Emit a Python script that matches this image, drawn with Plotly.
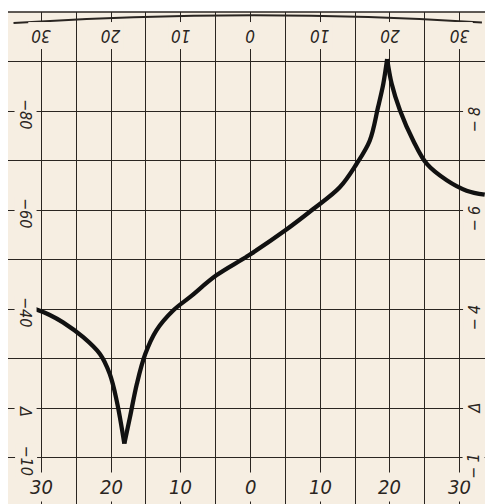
import plotly.graph_objects as go

# ---- data ----
curve_x = [-30.9, -28.8, -26.9, -24.0, -21.6, -20.2, -19.2, -18.1, -17.3, -16.3,
           -15.1, -13.5, -11.1, -8.7, -4.9, -0.3, 5.0, 9.0, 12.8, 15.2,
           17.1, 18.3, 19.05, 19.6, 20.25, 21.45, 23.35, 25.3, 28.15, 31.0, 33.6]
curve_y = [4.00, 3.88, 3.73, 3.43, 3.09, 2.69, 2.15, 1.28, 1.81, 2.49,
           3.09, 3.57, 3.97, 4.24, 4.68, 5.08, 5.59, 6.02, 6.46, 6.93,
           7.40, 8.08, 8.55, 9.05, 8.55, 8.01, 7.40, 6.93, 6.60, 6.39, 6.31]

x_tick_vals = [-30, -20, -10, 0, 10, 20, 30]
x_tick_text = ["30", "20", "10", "0", "10", "20", "30"]

left_tick_vals = [8, 6, 4, 2, 1]
left_tick_text = ["\u221280", "\u221260", "\u221240", "\u0394", "\u221210"]
right_tick_vals = [8, 6, 4, 2, 1]
right_tick_text = ["\u2212 8", "\u2212 6", "\u2212 4", "\u0394", "\u2212 1"]

PAPER = "#f6eee2"
INK = "#2a2521"
FONT = "Liberation Sans Narrow, DejaVu Sans Condensed, Roboto Condensed, sans-serif"

fig = go.Figure()
# split the curve at its sharp minimum and peak so the cusps stay pointed
i_min = curve_y.index(min(curve_y))
i_max = curve_y.index(max(curve_y))
for a, b in [(0, i_min), (i_min, i_max), (i_max, len(curve_x) - 1)]:
    fig.add_trace(go.Scatter(x=curve_x[a:b + 1], y=curve_y[a:b + 1], mode="lines",
                             line=dict(color="#111111", width=4.3, shape="spline",
                                       smoothing=1.0),
                             hoverinfo="skip", showlegend=False))

annotations = []
for v, t in zip(x_tick_vals, x_tick_text):
    annotations.append(dict(x=v, y=0.41, xref="x", yref="y", text=t, showarrow=False,
                            font=dict(family=FONT, size=20, color=INK, style="italic"),
                            bgcolor=PAPER, borderpad=2))
for v, t in zip(x_tick_vals, x_tick_text):
    annotations.append(dict(x=v, y=9.53, xref="x", yref="y", text=t, showarrow=False,
                            textangle=180,
                            font=dict(family=FONT, size=17, color=INK, style="italic"),
                            bgcolor=PAPER, borderpad=3))
for v, t in zip(left_tick_vals, left_tick_text):
    annotations.append(dict(x=-32.2, y=v, xref="x", yref="y", text=t, showarrow=False,
                            textangle=90, yshift=-3,
                            font=dict(family=FONT, size=16, color=INK, style="italic"),
                            bgcolor=PAPER, borderpad=1))
for v, t in zip(right_tick_vals, right_tick_text):
    annotations.append(dict(x=32.0, y=v, xref="x", yref="y", text=t, showarrow=False,
                            textangle=-90, yshift=(0 if t == "\u0394" else -9),
                            font=dict(family=FONT, size=16, color=INK, style="italic"),
                            bgcolor=PAPER, borderpad=1))

shapes = [
    dict(type="line", xref="paper", yref="paper", x0=0, x1=1, y0=1, y1=1,
         line=dict(color=INK, width=1.6)),
    dict(type="path", xref="x", yref="y", path="M -34.0,9.78 Q 0,10.08 33.2,9.79",
         line=dict(color=INK, width=2)),
]

# page body keeps an 8px margin, so the figure is sized/offset to land where the reference is
fig.update_layout(
    width=485, height=496,
    margin=dict(l=0, r=2, t=4, b=0),
    paper_bgcolor="white",
    plot_bgcolor=PAPER,
    showlegend=False,
    annotations=annotations,
    shapes=shapes,
    xaxis=dict(range=[-34.79, 34.5], tick0=0, dtick=5, showgrid=True,
               gridcolor=INK, gridwidth=1.1, zeroline=False,
               showticklabels=False, ticks="", showline=False, fixedrange=True),
    yaxis=dict(range=[0.061, 10], tick0=0, dtick=1, showgrid=True,
               gridcolor=INK, gridwidth=1.1, zeroline=False,
               showticklabels=False, ticks="", showline=True, mirror=True,
               linecolor=INK, linewidth=1.6, fixedrange=True),
)

fig.write_html("out.html")
